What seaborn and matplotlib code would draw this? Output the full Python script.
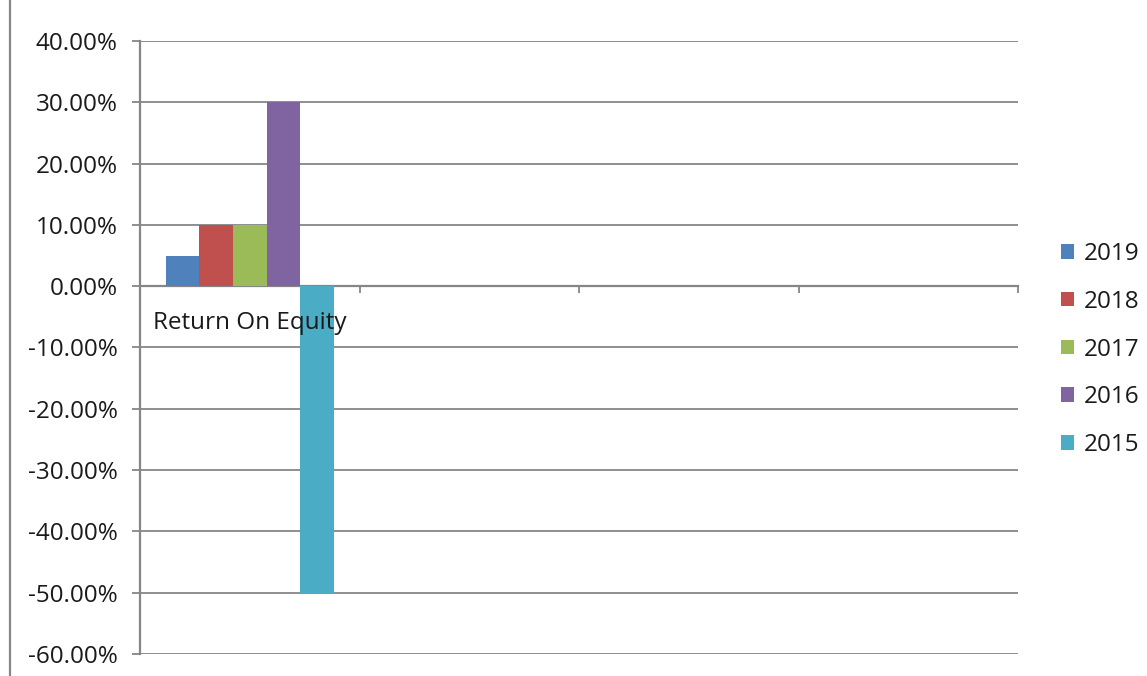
import matplotlib
matplotlib.use("Agg")
import matplotlib.pyplot as plt
from matplotlib.ticker import PercentFormatter, FixedLocator, FixedFormatter, NullFormatter
from matplotlib.lines import Line2D
import seaborn as sns
import pandas as pd

# Data
metric = ["Return On Equity"]
years = ["2019", "2018", "2017", "2016", "2015"]
roe = [0.05, 0.10, 0.10, 0.30, -0.50]
colors = ["#4F81BD", "#C0504D", "#9BBB59", "#8064A2", "#4BACC6"]
n_slots = 4          # category slots on the x axis (only the first is filled)
y_ticks = [-0.6, -0.5, -0.4, -0.3, -0.2, -0.1, 0.0, 0.1, 0.2, 0.3, 0.4]

sns.set_theme(style="white")
plt.rcParams["font.family"] = ["Open Sans", "DejaVu Sans"]
plt.rcParams["axes.unicode_minus"] = False

df = pd.DataFrame({
    "metric": metric * len(years),
    "year": years,
    "value": roe,
})

grey = "#868686"
text_col = "#1a1a1a"
fs = 17.5

fig = plt.figure(figsize=(11.47, 6.76), dpi=100)
ax = fig.add_axes([140 / 1147, 1 - 654 / 676, 878 / 1147, 613 / 676])

sns.barplot(data=df, x="metric", y="value", hue="year", hue_order=years,
            order=metric, palette=colors, width=0.766, gap=0, saturation=1,
            linewidth=0, ax=ax, zorder=3)

ax.set_xlim(-0.5, n_slots - 0.5)
ax.set_ylim(-0.6, 0.4)
ax.set_xlabel("")
ax.set_ylabel("")

# y axis: gridlines, outward ticks, percent labels
ax.yaxis.set_major_locator(FixedLocator(y_ticks))
ax.yaxis.set_major_formatter(PercentFormatter(xmax=1, decimals=2))
ax.yaxis.grid(True, color=grey, lw=1.3)
ax.set_axisbelow(True)
ax.tick_params(axis="y", which="major", direction="out", length=6, width=1.3,
               color=grey, pad=10, labelsize=fs, labelcolor=text_col, left=True)

# x axis crosses at zero; ticks mark category boundaries
ax.spines["bottom"].set_position(("data", 0))
ax.xaxis.set_major_locator(FixedLocator([i - 0.5 for i in range(n_slots + 1)]))
ax.xaxis.set_major_formatter(NullFormatter())
ax.xaxis.set_minor_locator(FixedLocator([0]))
ax.xaxis.set_minor_formatter(FixedFormatter(metric))
ax.tick_params(axis="x", which="major", direction="out", length=5, width=1.3,
               color=grey, bottom=True)
ax.tick_params(axis="x", which="minor", length=0, pad=18, labelsize=fs,
               labelcolor=text_col, bottom=True)
ax.xaxis.set_zorder(5)   # category label sits on top of the bars

for side in ("top", "right"):
    ax.spines[side].set_visible(False)
for side in ("left", "bottom"):
    ax.spines[side].set_color(grey)
    ax.spines[side].set_linewidth(1.6)

# Legend on the right
handles, labels = ax.get_legend_handles_labels()
if ax.legend_ is not None:
    ax.legend_.remove()
fig.legend(handles, labels, loc="center left",
           bbox_to_anchor=(1061 / 1147, 1 - 349.5 / 676), frameon=False,
           fontsize=fs, handlelength=0.55, handleheight=0.55, handletextpad=0.4,
           labelspacing=0.98, labelcolor=text_col, borderaxespad=0, borderpad=0)

# chart-area border on the left
fig.add_artist(Line2D([10 / 1147, 10 / 1147], [0, 1], transform=fig.transFigure,
                      color=grey, lw=1.6))

fig.savefig("out.png", dpi=100, facecolor="white")
